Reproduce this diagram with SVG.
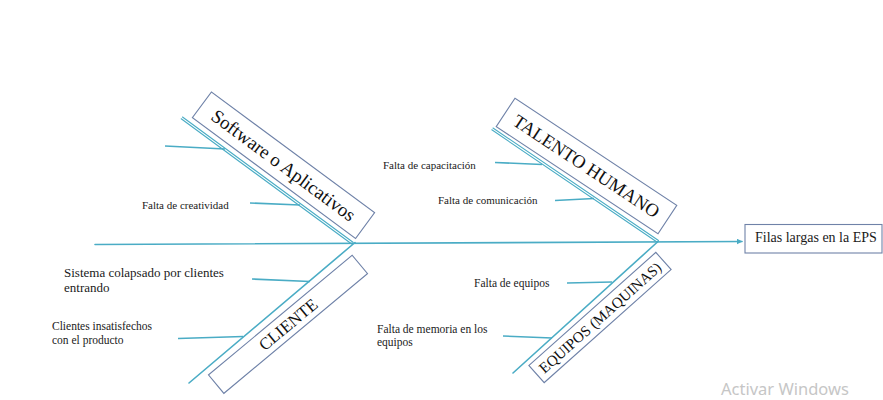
<svg xmlns="http://www.w3.org/2000/svg" width="883" height="400" viewBox="0 0 883 400">
<defs>
<style>
.bone{stroke:#4aacc5;stroke-width:1.6;fill:none;stroke-linecap:round}
.dbl{stroke:#4aacc5;stroke-width:1.1;fill:none;stroke-linecap:round}
.sub{stroke:#4aacc5;stroke-width:1.6;fill:none}
.box{fill:#ffffff;stroke:#6f82a8;stroke-width:1.1}
.lbl{font-family:"Liberation Serif","Times New Roman",serif;fill:#1a1a1a}
.cat{font-family:"Liberation Serif","Times New Roman",serif;fill:#111;text-anchor:middle}
</style>
<marker id="arr" viewBox="0 0 10 10" refX="9" refY="5" markerWidth="6" markerHeight="6" markerUnits="userSpaceOnUse" orient="auto">
<path d="M0,0 L10,5 L0,10 z" fill="#4aacc5"/>
</marker>
</defs>
<rect width="883" height="400" fill="#ffffff"/>
<g id="connectors">
<line class="bone" x1="95" y1="244.5" x2="742" y2="241.5" marker-end="url(#arr)"/>
<line class="dbl" x1="182.5" y1="117" x2="353" y2="242.3"/>
<line class="dbl" x1="181.2" y1="118.8" x2="351.7" y2="244"/>
<line class="dbl" x1="493" y1="128" x2="658.5" y2="240.5"/>
<line class="dbl" x1="491.8" y1="129.8" x2="657.3" y2="242.2"/>
<line class="bone" x1="355" y1="242.5" x2="189" y2="383"/>
<line class="bone" x1="658" y1="241.5" x2="513" y2="373"/>
<line class="sub" x1="165" y1="146" x2="225" y2="149"/>
<line class="sub" x1="250" y1="203" x2="300" y2="205"/>
<line class="sub" x1="495" y1="162.5" x2="542" y2="164.5"/>
<line class="sub" x1="555" y1="200.5" x2="594" y2="198.5"/>
<line class="sub" x1="252" y1="279" x2="310" y2="281.5"/>
<line class="sub" x1="178" y1="338.5" x2="243" y2="336.5"/>
<line class="sub" x1="567" y1="283" x2="612" y2="282"/>
<line class="sub" x1="503" y1="336" x2="552" y2="338"/>
</g>
<g id="software">
<g transform="translate(283.5,165.2) rotate(36.5)">
<rect class="box" x="-101.5" y="-16" width="203" height="32"/>
<text class="cat" x="0" y="6.5" font-size="19">Software o Aplicativos</text>
</g>
</g>
<g id="talento">
<g transform="translate(586.5,166) rotate(33.5)">
<rect class="box" x="-97" y="-17" width="194" height="34"/>
<text class="cat" x="0" y="6.5" font-size="18.5">TALENTO HUMANO</text>
</g>
</g>
<g id="cliente">
<g transform="translate(288,324.3) rotate(-39.8)">
<rect class="box" x="-93.5" y="-12" width="187" height="24"/>
<text class="cat" x="0" y="6" font-size="17">CLIENTE</text>
</g>
</g>
<g id="equipos">
<g transform="translate(600,317.5) rotate(-41.7)">
<rect class="box" x="-85" y="-11.5" width="170" height="23"/>
<text class="cat" x="0" y="5.3" font-size="15">EQUIPOS (MAQUINAS)</text>
</g>
</g>
<g id="efecto">
<rect class="box" x="745" y="224.5" width="137" height="28.5"/>
<text class="lbl" x="755" y="242" font-size="14">Filas largas en la EPS</text>
</g>
<g id="causa-creatividad"><text class="lbl" x="142" y="209" font-size="11">Falta de creatividad</text></g>
<g id="causa-capacitacion"><text class="lbl" x="383" y="169" font-size="11">Falta de capacitación</text></g>
<g id="causa-comunicacion"><text class="lbl" x="438" y="204" font-size="11">Falta de comunicación</text></g>
<g id="causa-colapsado"><text class="lbl" font-size="13"><tspan x="64" y="277">Sistema colapsado por clientes</tspan><tspan x="64" y="292">entrando</tspan></text></g>
<g id="causa-insatisfechos"><text class="lbl" font-size="11.5"><tspan x="52" y="330">Clientes insatisfechos</tspan><tspan x="52" y="344">con el producto</tspan></text></g>
<g id="causa-equipos"><text class="lbl" x="474" y="287" font-size="11.5">Falta de equipos</text></g>
<g id="causa-memoria"><text class="lbl" font-size="11.5"><tspan x="377" y="332.5">Falta de memoria en los</tspan><tspan x="377" y="346">equipos</tspan></text></g>
<text x="721" y="394.5" font-family="'Noto Sans','Open Sans',sans-serif" font-size="16.5" fill="#c6c6c6">Activar Windows</text>
</svg>
